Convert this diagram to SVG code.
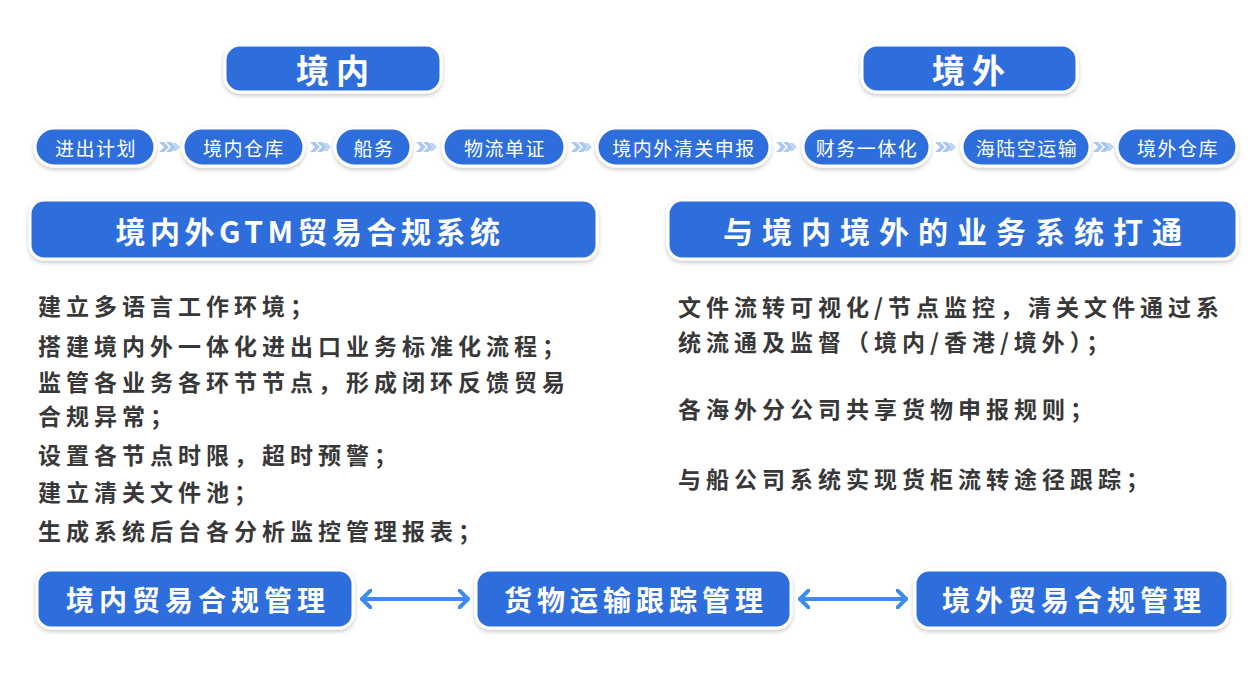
<svg xmlns="http://www.w3.org/2000/svg" width="1260" height="676" viewBox="0 0 1260 676">
<defs>
<filter id="sh" x="-10%" y="-20%" width="120%" height="150%">
<feDropShadow dx="0" dy="2" stdDeviation="2" flood-color="#000" flood-opacity="0.22"/>
</filter>
<symbol id="chev" viewBox="0 0 22 12" overflow="visible">
<polygon points="0,1 5,1 10,6 5,11 0,11 5,6" fill="#a9c7ef"/>
<polygon points="7,1 12,1 17,6 12,11 7,11 12,6" fill="#a9c7ef"/>
<polygon points="13,2 17,2 21,6 17,10 13,10 17,6" fill="#bcd4f3"/>
</symbol>
<marker id="ah" viewBox="0 0 12 20" refX="10" refY="10" markerWidth="12" markerHeight="20" markerUnits="userSpaceOnUse" orient="auto-start-reverse">
<polyline points="1,1 10,10 1,19" fill="none" stroke="#3d8bef" stroke-width="4" stroke-linecap="round" stroke-linejoin="round"/>
</marker>
<style>
.box{fill:#2f6edc;stroke:#ffffff;stroke-width:3;filter:url(#sh)}
.t{font-family:"Noto Sans CJK SC","Noto Sans",sans-serif;fill:#ffffff;text-anchor:middle;dominant-baseline:central}
.big{font-size:33px;font-weight:700;letter-spacing:7px}
.pill{font-size:19px;letter-spacing:1.5px}
.hd{font-size:30px;font-weight:700}
.bt{font-size:28px;font-weight:700;letter-spacing:5px}
.body{font-family:"Noto Sans CJK SC","Noto Sans",sans-serif;font-size:23px;font-weight:700;fill:#383838;letter-spacing:5px;dominant-baseline:central}
.conn{stroke:#3d8bef;stroke-width:4;fill:none;stroke-linecap:round}
</style>
</defs>
<rect width="1260" height="676" fill="#ffffff"/>

<g id="n-jingnei"><rect class="box" x="225" y="45" width="216" height="47" rx="15"/><text class="t big" x="336" y="69">境内</text></g>
<g id="n-jingwai"><rect class="box" x="862" y="45" width="215" height="47" rx="15"/><text class="t big" x="972" y="69">境外</text></g>

<g id="p1"><rect class="box" x="35" y="128" width="120" height="38" rx="19"/><text class="t pill" x="96" y="147">进出计划</text></g>
<g id="p2"><rect class="box" x="183" y="128" width="121" height="38" rx="19"/><text class="t pill" x="244" y="147">境内仓库</text></g>
<g id="p3"><rect class="box" x="335" y="128" width="76" height="38" rx="19"/><text class="t pill" x="374" y="147">船务</text></g>
<g id="p4"><rect class="box" x="443" y="128" width="122" height="38" rx="19"/><text class="t pill" x="505" y="147">物流单证</text></g>
<g id="p5"><rect class="box" x="597" y="128" width="173" height="38" rx="19"/><text class="t pill" x="684" y="147">境内外清关申报</text></g>
<g id="p6"><rect class="box" x="803" y="128" width="127" height="38" rx="19"/><text class="t pill" x="867" y="147">财务一体化</text></g>
<g id="p7"><rect class="box" x="962" y="128" width="128" height="38" rx="19"/><text class="t pill" x="1027" y="147">海陆空运输</text></g>
<g id="p8"><rect class="box" x="1117" y="128" width="120" height="38" rx="19"/><text class="t pill" x="1178" y="147">境外仓库</text></g>

<g id="h1"><rect class="box" x="30" y="200" width="567" height="59" rx="14"/><text class="t hd" x="310" y="230" letter-spacing="4.5">境内外GTM贸易合规系统</text></g>
<g id="h2"><rect class="box" x="668" y="200" width="569" height="59" rx="14"/><text class="t hd" x="957" y="230" letter-spacing="9">与境内境外的业务系统打通</text></g>

<g id="left-text">
<text class="body" x="38" y="305">建立多语言工作环境；</text>
<text class="body" x="38" y="345">搭建境内外一体化进出口业务标准化流程；</text>
<text class="body" x="38" y="381">监管各业务各环节节点，形成闭环反馈贸易</text>
<text class="body" x="38" y="415">合规异常；</text>
<text class="body" x="38" y="454">设置各节点时限，超时预警；</text>
<text class="body" x="38" y="491">建立清关文件池；</text>
<text class="body" x="38" y="530">生成系统后台各分析监控管理报表；</text>
</g>
<g id="right-text">
<text class="body" x="678" y="306">文件流转可视化/节点监控，清关文件通过系</text>
<text class="body" x="678" y="341">统流通及监督（境内/香港/境外）；</text>
<text class="body" x="678" y="408">各海外分公司共享货物申报规则；</text>
<text class="body" x="678" y="478">与船公司系统实现货柜流转途径跟踪；</text>
</g>

<g id="b1"><rect class="box" x="37" y="570" width="316" height="58" rx="14"/><text class="t bt" x="198" y="599">境内贸易合规管理</text></g>
<g id="b2"><rect class="box" x="476" y="570" width="315" height="58" rx="14"/><text class="t bt" x="636" y="599">货物运输跟踪管理</text></g>
<g id="b3"><rect class="box" x="915" y="570" width="313" height="58" rx="14"/><text class="t bt" x="1074" y="599">境外贸易合规管理</text></g>

<g id="connectors">
<use href="#chev" x="159" y="141" width="22" height="12"/>
<use href="#chev" x="310" y="141" width="22" height="12"/>
<use href="#chev" x="416" y="141" width="22" height="12"/>
<use href="#chev" x="571" y="141" width="22" height="12"/>
<use href="#chev" x="776" y="141" width="22" height="12"/>
<use href="#chev" x="935" y="141" width="22" height="12"/>
<use href="#chev" x="1093" y="141" width="22" height="12"/>
<line class="conn" x1="362" y1="599" x2="468" y2="599" marker-start="url(#ah)" marker-end="url(#ah)"/>
<line class="conn" x1="800" y1="599" x2="906" y2="599" marker-start="url(#ah)" marker-end="url(#ah)"/>
</g>
</svg>
